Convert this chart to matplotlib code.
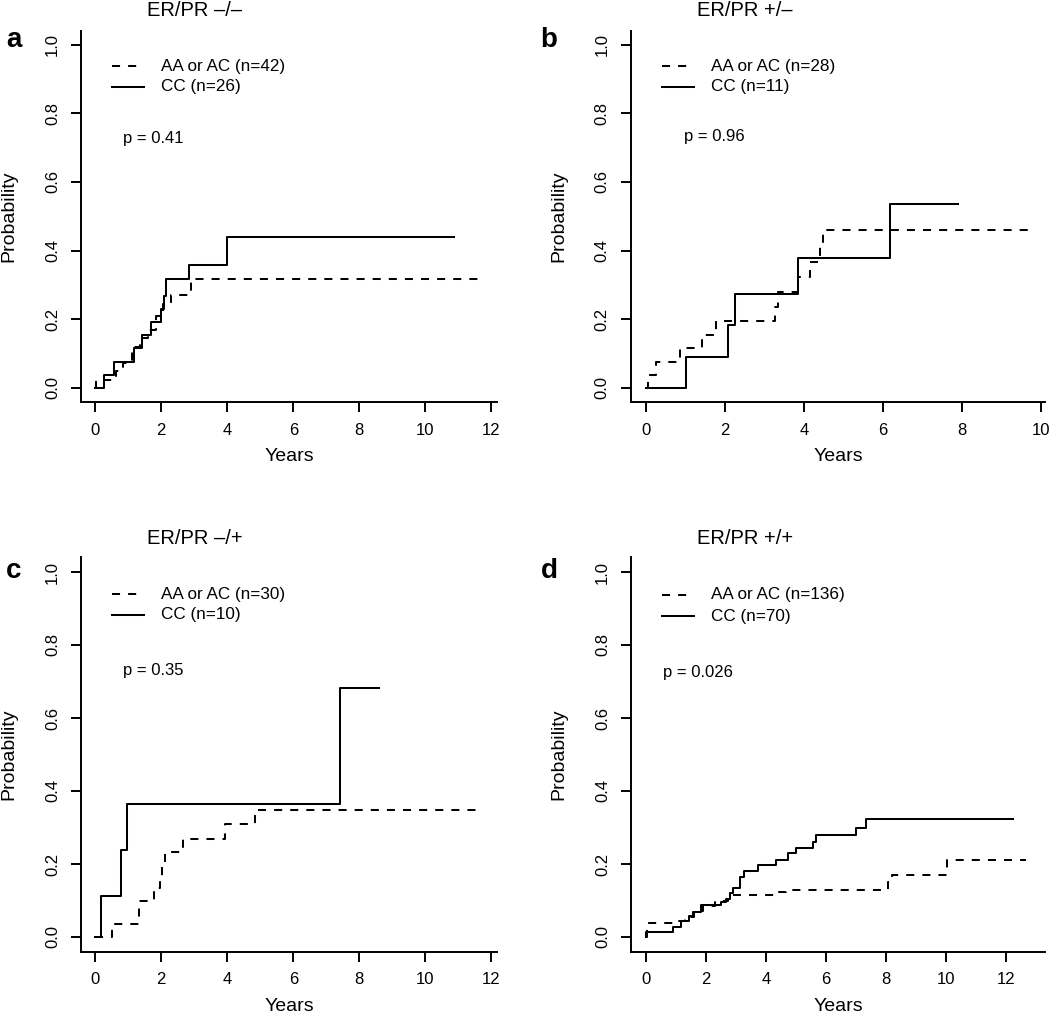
import matplotlib
matplotlib.use('Agg')
import matplotlib.pyplot as plt
from matplotlib.lines import Line2D

plt.rcParams['font.family'] = ['Liberation Sans', 'DejaVu Sans']
plt.rcParams['lines.scale_dashes'] = False

# ---------------- data ----------------
panel_letters = ['a', 'b', 'c', 'd']
panel_titles = ['ER/PR \u2013/\u2013', 'ER/PR +/\u2013', 'ER/PR \u2013/+', 'ER/PR +/+']
aa_n = [42, 28, 30, 136]
cc_n = [26, 11, 10, 70]
p_values = ['0.41', '0.96', '0.35', '0.026']

# panel a
a_aa_t = [0, 0.02, 0.62, 0.85, 1.1, 1.35, 1.6, 1.85, 2.05, 2.3, 2.9, 11.6]
a_aa_p = [0, 0.024, 0.048, 0.072, 0.12, 0.145, 0.17, 0.21, 0.245, 0.27, 0.317, 0.317]
a_cc_t = [0, 0.26, 0.58, 1.17, 1.43, 1.68, 2.0, 2.08, 2.13, 2.83, 3.98, 10.87]
a_cc_p = [0, 0.038, 0.077, 0.115, 0.154, 0.192, 0.231, 0.269, 0.317, 0.357, 0.44, 0.44]

# panel b
b_aa_t = [0, 0.05, 0.25, 0.86, 1.41, 1.76, 3.27, 3.35, 3.84, 4.15, 4.4, 4.49, 9.8]
b_aa_p = [0, 0.037, 0.075, 0.116, 0.155, 0.196, 0.235, 0.28, 0.324, 0.368, 0.41, 0.46, 0.46]
b_cc_t = [0, 1.0, 2.08, 2.24, 3.84, 6.18, 7.9]
b_cc_p = [0, 0.091, 0.182, 0.273, 0.378, 0.535, 0.535]

# panel c
c_aa_t = [0, 0.52, 1.33, 1.78, 1.96, 2.02, 2.12, 2.67, 3.93, 4.84, 11.6]
c_aa_p = [0, 0.036, 0.1, 0.133, 0.167, 0.2, 0.233, 0.268, 0.309, 0.347, 0.347]
c_cc_t = [0, 0.19, 0.78, 0.95, 7.42, 8.6]
c_cc_p = [0, 0.111, 0.238, 0.365, 0.682, 0.682]

# panel d
d_aa_t = [0, 0.02, 1.0, 1.3, 1.6, 1.9, 2.3, 2.74, 4.32, 4.65, 8.06, 8.19, 10.04, 12.67]
d_aa_p = [0, 0.037, 0.045, 0.055, 0.07, 0.084, 0.1, 0.114, 0.123, 0.13, 0.151, 0.171, 0.21, 0.21]
d_cc_t = [0, 0.0, 0.91, 1.17, 1.42, 1.58, 1.83, 2.5, 2.65, 2.8, 2.9, 3.13, 3.27, 3.74,
          4.32, 4.72, 5.0, 5.58, 5.66, 7.0, 7.33, 12.24]
d_cc_p = [0, 0.015, 0.027, 0.045, 0.057, 0.068, 0.087, 0.095, 0.105, 0.12, 0.133, 0.165,
          0.18, 0.197, 0.212, 0.229, 0.245, 0.26, 0.279, 0.3, 0.324, 0.324]

aa_times = [a_aa_t, b_aa_t, c_aa_t, d_aa_t]
aa_probs = [a_aa_p, b_aa_p, c_aa_p, d_aa_p]
cc_times = [a_cc_t, b_cc_t, c_cc_t, d_cc_t]
cc_probs = [a_cc_p, b_cc_p, c_cc_p, d_cc_p]

x_ticks = [list(range(0, 13, 2)), list(range(0, 11, 2)), list(range(0, 13, 2)), list(range(0, 13, 2))]
y_ticks = [0.0, 0.2, 0.4, 0.6, 0.8, 1.0]

# ---------------- layout ----------------
W, H = 1050, 1016
fig = plt.figure(figsize=(W / 100, H / 100), dpi=100)

# axes boxes in pixels: left, right, top, bottom
boxes = [(81, 496.7, 30.8, 401.7), (630.7, 1045, 30.8, 401.7),
         (81, 496.7, 557.4, 951.6), (631, 1045, 557.4, 951.6)]
xlims = [(-0.43, 12.16), (-0.39, 10.1), (-0.43, 12.16), (-0.5, 13.3)]

title_pos = [(195, 11), (745, 11), (195, 538), (745, 538)]
letter_pos = [(14, 40), (549, 40), (14, 571), (549, 571)]
p_pos = [(123, 138), (684, 137), (123, 671), (663, 672)]
leg_y = [(66, 87), (66, 87), (594, 615), (595, 616)]

DASH = (0, (5.8, 5.8))
LW = 1.45


def fx(x):
    return x / W


def fy(y):
    return 1 - y / H


for i in range(4):
    l, r, t, b = boxes[i]
    ax = fig.add_axes([fx(l), fy(b), (r - l) / W, (b - t) / H])
    ax.step(aa_times[i], aa_probs[i], where='post', color='black', lw=LW, linestyle=DASH)
    ax.step(cc_times[i], cc_probs[i], where='post', color='black', lw=LW, linestyle='-')
    ax.set_xlim(*xlims[i])
    ax.set_ylim(-0.04, 1.04)
    for s in ['top', 'right']:
        ax.spines[s].set_visible(False)
    for s in ['left', 'bottom']:
        ax.spines[s].set_linewidth(1.4)
    ax.set_xticks(x_ticks[i])
    ax.set_xticklabels([str(v) for v in x_ticks[i]], fontsize=12)
    ax.set_yticks(y_ticks)
    ax.set_yticklabels(['%.1f' % v for v in y_ticks], fontsize=12, rotation=90, va='center')
    ax.tick_params(direction='out', length=7.5, width=1.4, pad=7.5, colors='black')

    # legend
    lx0, lx1 = l + 31, l + 63
    y1, y2 = leg_y[i]
    fig.add_artist(Line2D([fx(lx0), fx(lx1)], [fy(y1), fy(y1)], color='black', lw=LW,
                          linestyle=DASH, transform=fig.transFigure))
    fig.add_artist(Line2D([fx(lx0), fx(lx1)], [fy(y2), fy(y2)], color='black', lw=LW,
                          linestyle='-', transform=fig.transFigure))
    fig.text(fx(l + 80), fy(y1), 'AA or AC (n=%d)' % aa_n[i], fontsize=12.3, va='center', ha='left')
    fig.text(fx(l + 80), fy(y2), 'CC (n=%d)' % cc_n[i], fontsize=12.3, va='center', ha='left')

    # p value
    fig.text(fx(p_pos[i][0]), fy(p_pos[i][1]), 'p = ' + p_values[i], fontsize=12, va='center', ha='left')

    # titles, letters, axis labels
    fig.text(fx(title_pos[i][0]), fy(title_pos[i][1]), panel_titles[i], fontsize=14.5,
             va='center', ha='center')
    fig.text(fx(letter_pos[i][0]), fy(letter_pos[i][1]), panel_letters[i], fontsize=20,
             fontweight='bold', va='center', ha='center')
    fig.text(fx(l - 72), fy((t + b) / 2), 'Probability', fontsize=14, rotation=90,
             va='center', ha='center')
    fig.text(fx((l + r) / 2), fy(b + 55), 'Years', fontsize=14, va='center', ha='center')

fig.savefig('out.png', dpi=100)
